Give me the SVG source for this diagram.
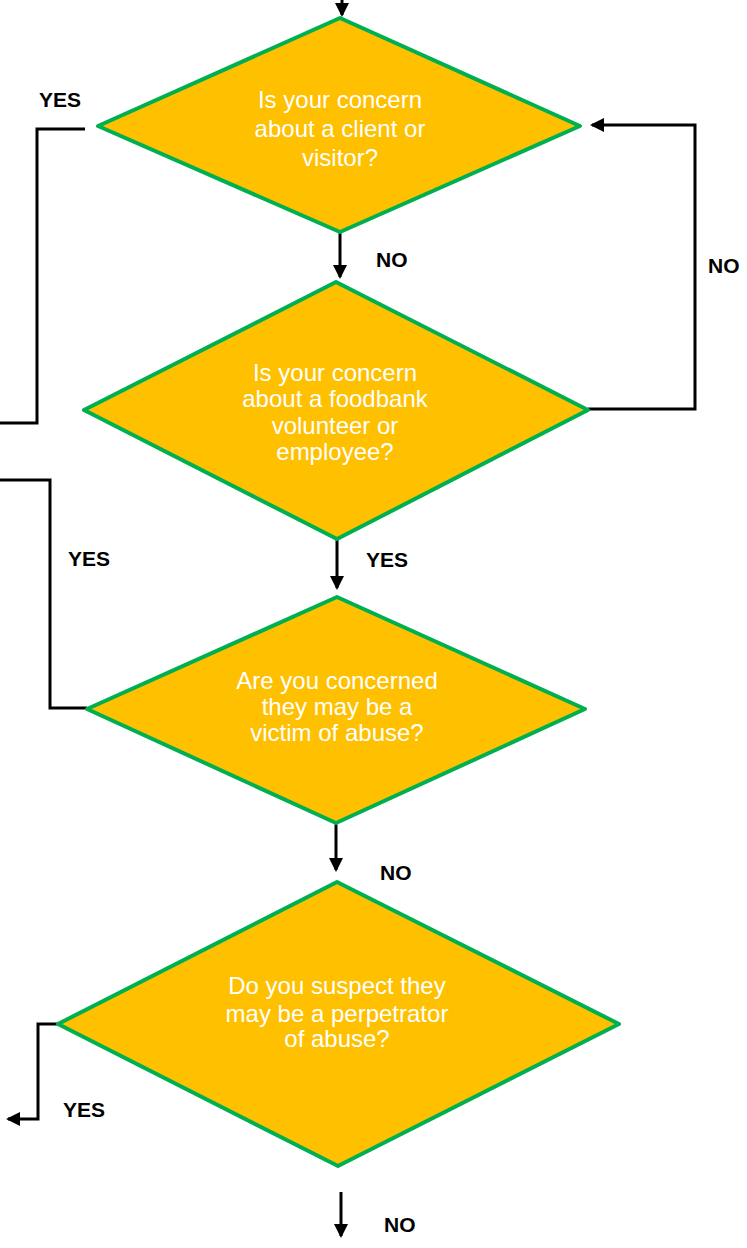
<svg xmlns="http://www.w3.org/2000/svg" width="747" height="1248" viewBox="0 0 747 1248">
<style>
.d{fill:#FFC000;stroke:#00B050;stroke-width:4;stroke-linejoin:round}
.t{font-family:"Liberation Sans",Arial,sans-serif;font-size:24px;fill:#FFFFFF;text-anchor:middle}
.l{font-family:"Liberation Sans",Arial,sans-serif;font-size:21px;font-weight:bold;fill:#000000}
.c{fill:none;stroke:#000000;stroke-width:3}
</style>
<defs>
<marker id="ah" markerUnits="userSpaceOnUse" markerWidth="16" markerHeight="16" refX="12" refY="7" orient="auto">
<path d="M0,0 L14,7 L0,14 z" fill="#000000"/>
</marker>
</defs>
<rect width="747" height="1248" fill="#FFFFFF"/>
<g id="connectors">
<line class="c" x1="342" y1="0" x2="342" y2="15" marker-end="url(#ah)"/>
<line class="c" x1="340" y1="232" x2="340" y2="277" marker-end="url(#ah)"/>
<polyline class="c" points="85,129 37,129 37,423 0,423"/>
<polyline class="c" points="588,409 695,409 695,125 592,125" marker-end="url(#ah)"/>
<line class="c" x1="337" y1="539" x2="337" y2="588" marker-end="url(#ah)"/>
<polyline class="c" points="87,708 50,708 50,480 0,480"/>
<line class="c" x1="336" y1="823" x2="336" y2="870" marker-end="url(#ah)"/>
<polyline class="c" points="62,1024 38,1024 38,1119 8,1119" marker-end="url(#ah)"/>
<line class="c" x1="341" y1="1192" x2="341" y2="1236" marker-end="url(#ah)"/>
</g>
<g id="labels">
<text class="l" x="39" y="107">YES</text>
<text class="l" x="376" y="267">NO</text>
<text class="l" x="708" y="273">NO</text>
<text class="l" x="68" y="566">YES</text>
<text class="l" x="366" y="567">YES</text>
<text class="l" x="380" y="880">NO</text>
<text class="l" x="63" y="1117">YES</text>
<text class="l" x="384" y="1232">NO</text>
</g>
<g id="q1">
<polygon class="d" points="340,18 580,126 340,232 98,126"/>
<text class="t" x="340" y="108">Is your concern</text>
<text class="t" x="340" y="137">about a client or</text>
<text class="t" x="340" y="166">visitor?</text>
</g>
<g id="q2">
<polygon class="d" points="336,282 588,410 337,539 84,410"/>
<text class="t" x="335" y="381">Is your concern</text>
<text class="t" x="335" y="407">about a foodbank</text>
<text class="t" x="335" y="434">volunteer or</text>
<text class="t" x="335" y="460">employee?</text>
</g>
<g id="q3">
<polygon class="d" points="337,597 585,709 336,823 87,709"/>
<text class="t" x="337" y="689">Are you concerned</text>
<text class="t" x="337" y="715">they may be a</text>
<text class="t" x="337" y="741">victim of abuse?</text>
</g>
<g id="q4">
<polygon class="d" points="337,882 619,1024 338,1166 58,1024"/>
<text class="t" x="337" y="994">Do you suspect they</text>
<text class="t" x="337" y="1022">may be a perpetrator</text>
<text class="t" x="337" y="1047">of abuse?</text>
</g>
</svg>
